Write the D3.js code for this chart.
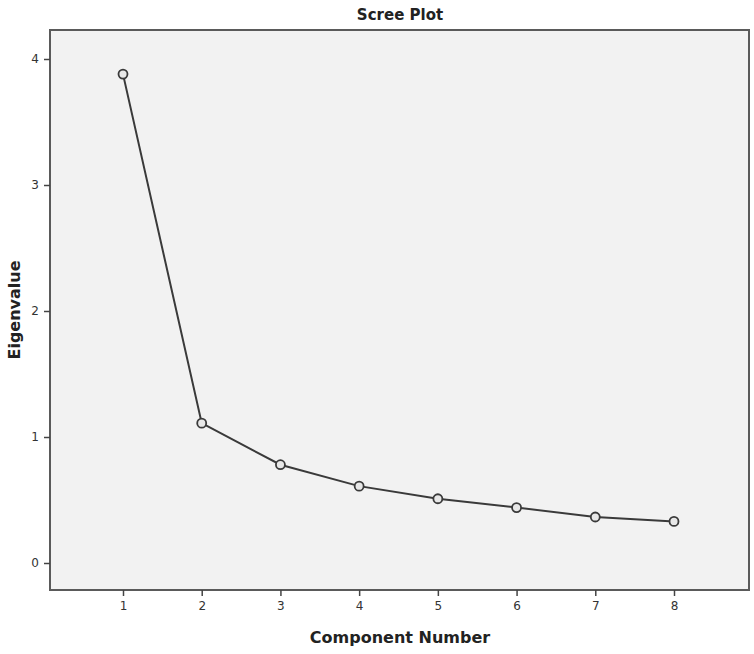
<!DOCTYPE html>
<html>
<head>
<meta charset="utf-8">
<script src="https://cdn.jsdelivr.net/npm/d3@7"></script>
<style>
  body { margin: 0; background: #fff; }
  text { font-family: "DejaVu Sans", sans-serif; }
</style>
</head>
<body>
<div id="chart"></div>
<script>
// Scree plot data
const COMPONENTS = [1, 2, 3, 4, 5, 6, 7, 8];
const EIGENVALUES = [3.88, 1.11, 0.78, 0.61, 0.51, 0.44, 0.365, 0.33];
const Y_TICKS = [0, 1, 2, 3, 4];

const WIDTH = 754;
const HEIGHT = 654;
const FRAME = { left: 50, top: 30, right: 749, bottom: 590 };

const svg = d3.select("#chart").append("svg")
  .attr("width", WIDTH)
  .attr("height", HEIGHT);

const x = d3.scaleLinear()
  .domain([1, 8])
  .range([123, 674]);

const y = d3.scaleLinear()
  .domain([0, 4])
  .range([563, 59]);

// plot area
svg.append("rect")
  .attr("x", FRAME.left)
  .attr("y", FRAME.top)
  .attr("width", FRAME.right - FRAME.left)
  .attr("height", FRAME.bottom - FRAME.top)
  .attr("fill", "#f2f2f2")
  .attr("stroke", "#5a5a5a")
  .attr("stroke-width", 2);

// axes
const xAxis = svg.append("g")
  .attr("transform", `translate(0,${FRAME.bottom})`)
  .call(d3.axisBottom(x).tickValues(COMPONENTS).tickSize(6).tickPadding(5).tickFormat(d3.format("d")));
const yAxis = svg.append("g")
  .attr("transform", `translate(${FRAME.left},0)`)
  .call(d3.axisLeft(y).tickValues(Y_TICKS).tickSize(6).tickPadding(5).tickFormat(d3.format("d")));

[xAxis, yAxis].forEach(g => {
  g.select(".domain").remove();
  g.selectAll(".tick line").attr("stroke", "#444").attr("stroke-width", 1.5);
  g.selectAll(".tick text")
    .attr("fill", "#333")
    .style("font-size", "12px");
});

// line + points
const line = d3.line()
  .x((d, i) => x(COMPONENTS[i]))
  .y(d => y(d));

svg.append("path")
  .datum(EIGENVALUES)
  .attr("d", line)
  .attr("fill", "none")
  .attr("stroke", "#3a3a3a")
  .attr("stroke-width", 2);

svg.selectAll(".point")
  .data(EIGENVALUES)
  .enter()
  .append("circle")
  .attr("class", "point")
  .attr("cx", (d, i) => x(COMPONENTS[i]))
  .attr("cy", d => y(d))
  .attr("r", 4.5)
  .attr("fill", "#e8e8e8")
  .attr("stroke", "#3a3a3a")
  .attr("stroke-width", 1.8);

// titles
svg.append("text")
  .attr("x", 400)
  .attr("y", 20)
  .attr("text-anchor", "middle")
  .style("font-size", "15px")
  .style("font-weight", "bold")
  .attr("fill", "#222")
  .text("Scree Plot");

svg.append("text")
  .attr("x", 400)
  .attr("y", 643)
  .attr("text-anchor", "middle")
  .style("font-size", "16px")
  .style("font-weight", "bold")
  .attr("fill", "#222")
  .text("Component Number");

svg.append("text")
  .attr("transform", "translate(20,310) rotate(-90)")
  .attr("text-anchor", "middle")
  .style("font-size", "16px")
  .style("font-weight", "bold")
  .attr("fill", "#222")
  .text("Eigenvalue");
</script>
</body>
</html>
